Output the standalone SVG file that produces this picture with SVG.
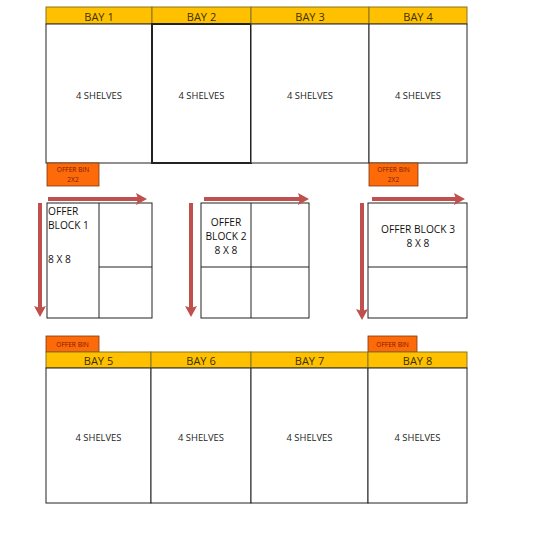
<svg xmlns="http://www.w3.org/2000/svg" width="552" height="560" viewBox="0 0 552 560">
<defs>
<style>
.box{fill:#fff;stroke:#222;stroke-width:1}
.hdr{fill:#ffc000;stroke:#8a7420;stroke-width:1}
.bin{fill:#fd6a0a;stroke:#7a3a10;stroke-width:0.8}
.t{font-family:"Open Sans","Liberation Sans",sans-serif;fill:#222;text-anchor:middle;dominant-baseline:central}
.ht{font-size:11px;fill:#3a3000}
.st{font-size:9.4px}
.bt{font-size:6.6px;fill:#7a1a00}
.ot{font-size:10.2px;fill:#111}
.arr{stroke:#c0504d;stroke-width:4;fill:none}
.ah{fill:#c0504d}
</style>
</defs>
<rect width="552" height="560" fill="#fff"/>

<g id="bay1"><rect class="hdr" x="46" y="7" width="106" height="17"/><rect class="box" x="46" y="24" width="106" height="139"/><text class="t ht" x="99" y="16">BAY 1</text><text class="t st" x="99" y="95">4 SHELVES</text></g>
<g id="bay2"><rect class="hdr" x="152" y="7" width="99" height="17"/><rect class="box" x="152" y="24" width="99" height="139" style="stroke-width:2"/><text class="t ht" x="201.5" y="16">BAY 2</text><text class="t st" x="201.5" y="95">4 SHELVES</text></g>
<g id="bay3"><rect class="hdr" x="251" y="7" width="118" height="17"/><rect class="box" x="251" y="24" width="118" height="139"/><text class="t ht" x="310" y="16">BAY 3</text><text class="t st" x="310" y="95">4 SHELVES</text></g>
<g id="bay4"><rect class="hdr" x="369" y="7" width="98" height="17"/><rect class="box" x="369" y="24" width="98" height="139"/><text class="t ht" x="418" y="16">BAY 4</text><text class="t st" x="418" y="95">4 SHELVES</text></g>

<g id="offerbin1"><rect class="bin" x="47" y="163" width="52" height="23"/><text class="t bt" x="73" y="169.5">OFFER BIN</text><text class="t bt" x="73" y="179">2X2</text></g>
<g id="offerbin2"><rect class="bin" x="369" y="163" width="49" height="23"/><text class="t bt" x="393.5" y="169.5">OFFER BIN</text><text class="t bt" x="393.5" y="179">2X2</text></g>

<g id="block1"><rect class="box" x="47" y="203" width="105" height="115"/><line class="box" x1="99" y1="203" x2="99" y2="318"/><line class="box" x1="99" y1="267" x2="152" y2="267"/>
<text class="t ot" x="48" y="211" style="text-anchor:start">OFFER</text><text class="t ot" x="48" y="225" style="text-anchor:start">BLOCK 1</text><text class="t ot" x="48" y="259" style="text-anchor:start">8 X 8</text></g>
<g id="block2"><rect class="box" x="201" y="203" width="108" height="115"/><line class="box" x1="251" y1="203" x2="251" y2="318"/><line class="box" x1="201" y1="267" x2="309" y2="267"/>
<text class="t ot" x="226" y="222">OFFER</text><text class="t ot" x="226" y="236">BLOCK 2</text><text class="t ot" x="226" y="250">8 X 8</text></g>
<g id="block3"><rect class="box" x="368" y="203" width="99" height="115"/><line class="box" x1="368" y1="267" x2="467" y2="267"/>
<text class="t ot" x="418" y="229">OFFER BLOCK 3</text><text class="t ot" x="418" y="243">8 X 8</text></g>

<g id="connectors">
<line class="arr" x1="48" y1="199" x2="138" y2="199"/><polygon class="ah" points="136,193 147,199 136,205 138,199"/>
<line class="arr" x1="204" y1="199" x2="300" y2="199"/><polygon class="ah" points="298,193 309,199 298,205 300,199"/>
<line class="arr" x1="372" y1="199" x2="456" y2="199"/><polygon class="ah" points="454,193 465,199 454,205 456,199"/>
<line class="arr" x1="40" y1="203" x2="40" y2="308"/><polygon class="ah" points="34,306 40,317 46,306 40,308"/>
<line class="arr" x1="191" y1="203" x2="191" y2="308"/><polygon class="ah" points="185,306 191,317 197,306 191,308"/>
<line class="arr" x1="362" y1="203" x2="362" y2="311"/><polygon class="ah" points="356,309 362,320 368,309 362,311"/>
</g>

<g id="offerbin3"><rect class="bin" x="46" y="336" width="53" height="16"/><text class="t bt" x="72.5" y="344">OFFER BIN</text></g>
<g id="offerbin4"><rect class="bin" x="368" y="336" width="49" height="16"/><text class="t bt" x="392.5" y="344">OFFER BIN</text></g>

<g id="bay5"><rect class="hdr" x="46" y="352" width="105" height="16"/><rect class="box" x="46" y="368" width="105" height="135"/><text class="t ht" x="98.5" y="360.5">BAY 5</text><text class="t st" x="98.5" y="437">4 SHELVES</text></g>
<g id="bay6"><rect class="hdr" x="151" y="352" width="100" height="16"/><rect class="box" x="151" y="368" width="100" height="135"/><text class="t ht" x="201" y="360.5">BAY 6</text><text class="t st" x="201" y="437">4 SHELVES</text></g>
<g id="bay7"><rect class="hdr" x="251" y="352" width="117" height="16"/><rect class="box" x="251" y="368" width="117" height="135"/><text class="t ht" x="309.5" y="360.5">BAY 7</text><text class="t st" x="309.5" y="437">4 SHELVES</text></g>
<g id="bay8"><rect class="hdr" x="368" y="352" width="99" height="16"/><rect class="box" x="368" y="368" width="99" height="135"/><text class="t ht" x="417.5" y="360.5">BAY 8</text><text class="t st" x="417.5" y="437">4 SHELVES</text></g>
</svg>
